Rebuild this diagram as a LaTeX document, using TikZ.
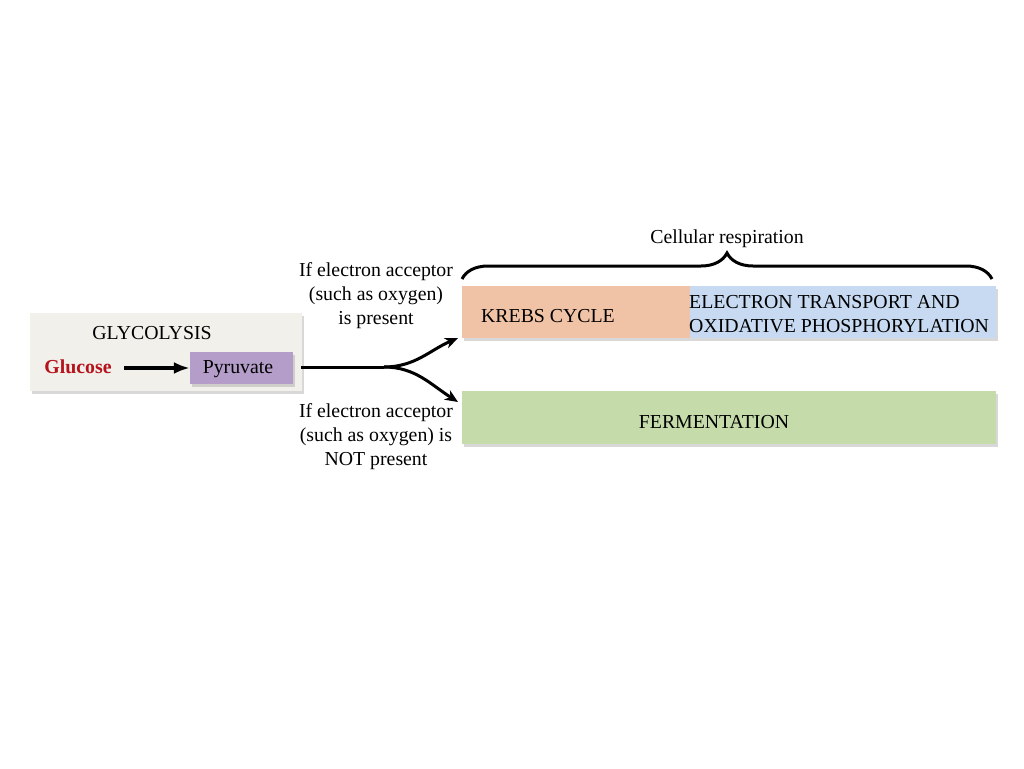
\documentclass[tikz,border=0pt]{standalone}
\usepackage{fontspec}
\setmainfont{Liberation Serif}
\usetikzlibrary{shadows,decorations.pathreplacing,arrows.meta}
\definecolor{glybg}{HTML}{F2F0EB}
\definecolor{pyrfill}{HTML}{B49DC9}
\definecolor{krebsfill}{HTML}{F1C3A6}
\definecolor{etcfill}{HTML}{C7DAF2}
\definecolor{fermfill}{HTML}{C5DBAA}
\definecolor{glured}{HTML}{B5121B}
\tikzset{
  stagebox/.style={rectangle,inner sep=0pt,drop shadow={shadow xshift=2pt,shadow yshift=-3pt,opacity=0.3}},
  lbl/.style={font=\fontsize{19.8}{24}\selectfont,align=center,inner sep=0pt}
}
\begin{document}
\begin{tikzpicture}[x=1pt,y=-1pt]
            \useasboundingbox[fill=white] (0,0) rectangle (1024,768);
            \node[stagebox,fill=glybg,minimum width=272pt,minimum height=78pt] (gly) at (166,352) {};
            \node[lbl] (glytxt) at (152,333) {GLYCOLYSIS};
            \node[lbl,text=glured,font=\fontsize{19.8}{24}\selectfont\bfseries] (glu) at (78,367) {Glucose};
            \node[stagebox,fill=pyrfill,minimum width=103pt,minimum height=32pt] (pyr) at (241.5,368) {};
            \node[lbl] (pyrtxt) at (238,369.5) {Pyruvate};
            \coordinate (gluend) at (124,368);
            \coordinate (pyrend) at (301,367);
            \coordinate (split) at (384,367);
            \coordinate (upend) at (458,338);
            \coordinate (downend) at (458,402);
            \draw[line width=4pt,-{Latex[length=16pt,width=12pt]}] (gluend) -- (pyr.west);
            \node[stagebox,fill=krebsfill,minimum width=228pt,minimum height=52pt] (krebs) at (576,312) {};
            \node[lbl] (krebstxt) at (548,316) {KREBS CYCLE};
            \node[stagebox,fill=etcfill,minimum width=306pt,minimum height=52pt] (etc) at (843,312) {};
            \node[lbl,align=left,anchor=west] (etctxt) at (689,314) {ELECTRON TRANSPORT AND\\OXIDATIVE PHOSPHORYLATION};
            \node[stagebox,fill=fermfill,minimum width=534pt,minimum height=53pt] (ferm) at (729,417.5) {};
            \node[lbl] (fermtxt) at (714,422) {FERMENTATION};
            \node[lbl] (yes) at (376,296) {If electron acceptor\\(such as oxygen)\\is present};
            \node[lbl] (no) at (376,437) {If electron acceptor\\(such as oxygen) is\\NOT present};
            \draw[line width=3pt] (pyrend) -- (split);
            \draw[line width=3pt,-{Stealth[length=13pt,width=11pt,inset=4pt]}] (split) .. controls (415,367) and (430,350) .. (upend);
            \draw[line width=3pt,-{Stealth[length=13pt,width=11pt,inset=4pt]}] (split) .. controls (415,367) and (430,384) .. (downend);
            \draw[line width=3pt,decorate,decoration={brace,amplitude=26pt}] (462,279) -- (992,279) node[midway,above=30pt,lbl] (resp) {Cellular respiration};
        \end{tikzpicture}
\end{document}
